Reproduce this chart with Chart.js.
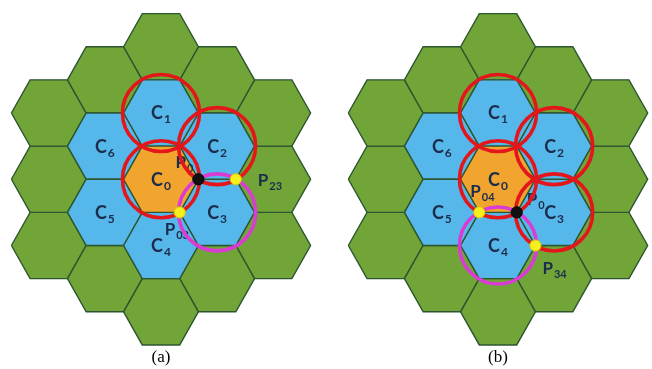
<!DOCTYPE html>
<html>
<head>
<meta charset="utf-8">
<script src="https://cdn.jsdelivr.net/npm/chart.js@4.4.1/dist/chart.umd.min.js"></script>
<style>
  html, body { margin: 0; padding: 0; background: #ffffff; }
  #wrap { position: relative; width: 652px; height: 369px; overflow: hidden; }
  .panel { position: absolute; top: 0; height: 369px; }
</style>
</head>
<body>
<div id="wrap">
  <div class="panel" style="left:0px;width:322px"><canvas id="chartA" width="322" height="369"></canvas></div>
  <div class="panel" style="left:335px;width:326px"><canvas id="chartB" width="326" height="369"></canvas></div>
</div>
<script>
// ---- Cell layout (column index, row offset in cell heights) ----
// Seven-cell cluster: C0 in the middle, C1..C6 around it
const clusterNames = ['C0', 'C1', 'C2', 'C3', 'C4', 'C5', 'C6'];
const clusterCols  = [0, 0, 1, 1, 0, -1, -1];
const clusterRows  = [0, -1, -0.5, 0.5, 1, 0.5, -0.5];

// Outer ring of twelve cells
const ringCols = [0, 0, 1, 1, -1, -1, 2, 2, 2, -2, -2, -2];
const ringRows = [-2, 2, -1.5, 1.5, -1.5, 1.5, -1, 0, 1, -1, 0, 1];

// ---- Panel (a) ----
const captionA = '(a)';
const circledA = ['C1', 'C2', 'C0'];
const targetA = ['C3'];
const pointNamesA = ['P0', 'P23', 'P03'];
const pointColsA = [2 / 3, 4 / 3, 1 / 3];
const pointRowsA = [0, 0, 0.5];
const pointKindsA = ['origin', 'corner', 'corner'];

// ---- Panel (b) ----
const captionB = '(b)';
const circledB = ['C1', 'C2', 'C0', 'C3'];
const targetB = ['C4'];
const pointNamesB = ['P04', 'P0', 'P34'];
const pointColsB = [-1 / 3, 1 / 3, 2 / 3];
const pointRowsB = [0.5, 0.5, 1];
const pointKindsB = ['corner', 'origin', 'corner'];

// ---- Styling / geometry ----
const COLORS = {
  ring: '#72a538',
  cluster: '#56b8ea',
  center: '#f2a52e',
  edge: '#2c5530',
  circle: '#e3161b',
  target: '#d93bd3',
  origin: '#111111',
  corner: '#f6ef1d',
  cornerEdge: '#d9c800',
  text: '#1b2c4c'
};
const GRID = { colPx: 58.5, rowPx: 67.55, centerY: 176 };
const CAPTION = { size: 17, padTop: 0, padBottom: 1 };
// pixel offsets of the point labels from their points [dx to left edge, dy to baseline]
const labelOffsetsA = [[-23, -11], [22, 7], [-15, 23]];
const labelOffsetsB = [[-9, -15], [10, -7], [7, 28]];

// hexagon outline around a cell centre, in column/row units
const hexOutline = [[-2/3, 0], [-1/3, -0.5], [1/3, -0.5], [2/3, 0], [1/3, 0.5], [-1/3, 0.5], [-2/3, 0]];

function cellDataset(col, row, fillColor) {
  return {
    data: hexOutline.map(([dx, dy]) => ({ x: col + dx, y: row + dy })),
    showLine: true,
    fill: 'shape',
    backgroundColor: fillColor,
    borderColor: COLORS.edge,
    borderWidth: 1.4,
    tension: 0,
    pointRadius: 0,
    pointHoverRadius: 0,
    order: 3
  };
}

function cellCenter(name) {
  const i = clusterNames.indexOf(name);
  return { x: clusterCols[i], y: clusterRows[i] };
}

function circleRadius(ctx) {
  const s = ctx.chart.scales.x;
  return Math.abs(s.getPixelForValue(2 / 3) - s.getPixelForValue(0)) * 1.03;
}

function circleDataset(names, color) {
  return {
    data: names.map(cellCenter),
    showLine: false,
    pointStyle: 'circle',
    pointRadius: circleRadius,
    pointHoverRadius: circleRadius,
    pointBackgroundColor: 'rgba(0,0,0,0)',
    pointBorderColor: color,
    pointBorderWidth: 3.6,
    order: 2
  };
}

function drawSubscripted(ctx, main, sub, x, baseline, centered, size) {
  const mainFont = 'bold ' + size + 'px Lato, "Open Sans", sans-serif';
  const subFont = 'bold ' + Math.round(size * 0.64) + 'px Lato, "Open Sans", sans-serif';
  ctx.font = mainFont;
  const wMain = ctx.measureText(main).width;
  ctx.font = subFont;
  const wSub = ctx.measureText(sub).width;
  const left = centered ? x - (wMain + wSub + 1) / 2 : x;
  ctx.textAlign = 'left';
  ctx.textBaseline = 'alphabetic';
  ctx.fillStyle = COLORS.text;
  ctx.font = mainFont;
  ctx.fillText(main, left, baseline);
  ctx.font = subFont;
  ctx.fillText(sub, left + wMain + 1, baseline + 4);
}

// Writes the cell names and point names once all cells are painted
const cellLabels = {
  id: 'cellLabels',
  afterDatasetDraw(chart, args, opts) {
    if (args.index !== 0) return;
    const xs = chart.scales.x, ys = chart.scales.y, ctx = chart.ctx;
    ctx.save();
    clusterNames.forEach((n, i) => {
      const px = xs.getPixelForValue(clusterCols[i]);
      const py = ys.getPixelForValue(clusterRows[i]);
      drawSubscripted(ctx, n[0], n.slice(1), px, py + 6.5, true, 18);
    });
    opts.names.forEach((n, i) => {
      const px = xs.getPixelForValue(opts.cols[i]);
      const py = ys.getPixelForValue(opts.rows[i]);
      const [dx, dy] = opts.offsets[i];
      drawSubscripted(ctx, n[0], n.slice(1), px + dx, py + dy, false, 17);
    });
    ctx.restore();
  }
};

function makePanel(canvasId, caption, circled, target, names, cols, rows, kinds, offsets) {
  const canvas = document.getElementById(canvasId);
  const halfW = canvas.width / 2 / GRID.colPx;
  // plot height left once the caption box is placed below it
  const areaH = canvas.height - (CAPTION.size * 1.2 + CAPTION.padTop + CAPTION.padBottom);
  const datasets = [];
  clusterNames.forEach((n, i) => {
    datasets.push(cellDataset(clusterCols[i], clusterRows[i], i === 0 ? COLORS.center : COLORS.cluster));
  });
  ringCols.forEach((c, i) => datasets.push(cellDataset(c, ringRows[i], COLORS.ring)));
  datasets.push(circleDataset(target, COLORS.target));
  datasets.push(circleDataset(circled, COLORS.circle));
  datasets.push({
    data: cols.map((c, i) => ({ x: c, y: rows[i] })),
    showLine: false,
    pointStyle: 'circle',
    pointRadius: 5.6,
    pointHoverRadius: 5.6,
    pointBackgroundColor: kinds.map(k => COLORS[k]),
    pointBorderColor: kinds.map(k => k === 'origin' ? '#000000' : COLORS.cornerEdge),
    pointBorderWidth: 1,
    order: 1
  });

  return new Chart(canvas, {
    type: 'scatter',
    data: { datasets },
    plugins: [cellLabels],
    options: {
      responsive: false,
      animation: false,
      events: [],
      devicePixelRatio: 1,
      layout: { padding: 0 },
      scales: {
        x: { type: 'linear', display: false, min: -halfW, max: halfW },
        y: {
          type: 'linear', display: false, reverse: true,
          min: -GRID.centerY / GRID.rowPx,
          max: (areaH - GRID.centerY) / GRID.rowPx
        }
      },
      plugins: {
        legend: { display: false },
        tooltip: { enabled: false },
        title: {
          display: true,
          text: caption,
          position: 'bottom',
          color: '#000000',
          font: { family: '"Liberation Serif", "Times New Roman", serif', size: CAPTION.size, weight: 'normal' },
          padding: { top: CAPTION.padTop, bottom: CAPTION.padBottom }
        },
        cellLabels: { names, cols, rows, offsets }
      }
    }
  });
}

makePanel('chartA', captionA, circledA, targetA, pointNamesA, pointColsA, pointRowsA, pointKindsA, labelOffsetsA);
makePanel('chartB', captionB, circledB, targetB, pointNamesB, pointColsB, pointRowsB, pointKindsB, labelOffsetsB);
</script>
</body>
</html>
